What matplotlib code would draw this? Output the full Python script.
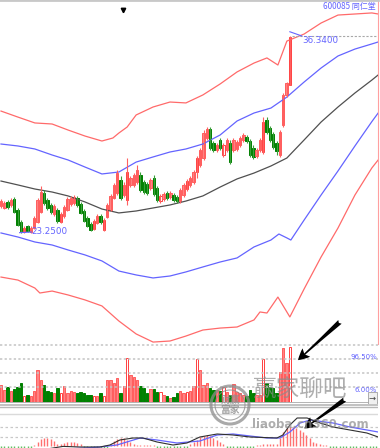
import matplotlib
matplotlib.use("Agg")
import matplotlib.pyplot as plt
from matplotlib.patches import Circle, FancyArrowPatch
import numpy as np

plt.rcParams['font.family'] = ['DejaVu Sans']
CJK = ['Noto Sans CJK SC', 'DejaVu Sans']

# ---- daily candles (price, yuan) ----
opens = [25.04, 24.91, 25.31, 25.11, 25.51, 24.78, 23.98, 23.31, 23.71, 23.31,
         23.58, 23.98, 24.64, 25.91, 25.44, 25.11, 24.51, 24.78, 23.98, 24.38,
         24.78, 25.17, 25.24, 25.57, 25.17, 24.71, 24.24, 23.85, 23.51, 23.91,
         24.38, 23.45, 24.31, 24.78, 25.57, 25.91, 26.77, 25.77, 25.44, 26.44,
         26.44, 26.64, 27.10, 26.64, 26.50, 26.24, 26.90, 26.24, 25.37, 25.51,
         25.91, 25.64, 25.77, 25.64, 25.37, 25.77, 26.17, 26.44, 26.64, 27.30,
         27.77, 28.23, 29.56, 30.16, 29.23, 28.76, 29.43, 28.43, 28.76, 29.23,
         28.76, 28.83, 29.10, 29.43, 29.63, 29.36, 28.90, 28.36, 28.76, 28.63,
         30.76, 30.22, 29.83, 29.23, 28.43, 30.42, 32.42, 33.08]
closes = [25.37, 25.24, 24.97, 25.44, 24.64, 23.78, 23.38, 23.58, 23.38, 23.58,
          24.24, 25.44, 25.97, 25.24, 24.91, 24.64, 25.04, 24.04, 24.51, 24.97,
          25.51, 25.57, 25.64, 25.11, 24.58, 24.04, 23.71, 23.45, 24.04, 24.38,
          23.98, 24.11, 25.11, 25.71, 26.44, 27.23, 25.57, 26.44, 27.30, 26.90,
          27.10, 27.43, 26.10, 25.97, 25.91, 26.77, 25.84, 25.44, 25.71, 25.84,
          25.57, 25.91, 25.44, 25.37, 26.10, 26.44, 26.70, 26.90, 27.30, 28.23,
          28.76, 29.89, 30.16, 28.90, 28.76, 29.10, 28.90, 29.10, 29.43, 27.96,
          29.43, 29.29, 29.56, 29.76, 29.36, 28.43, 28.30, 28.76, 29.43, 30.62,
          29.96, 29.43, 28.96, 28.70, 29.96, 32.42, 33.21, 36.27]
highs = [25.51, 25.37, 25.44, 25.57, 25.64, 24.91, 24.11, 23.71, 23.78, 23.71,
         24.38, 25.57, 26.37, 26.10, 25.57, 25.24, 25.17, 24.91, 24.64, 25.11,
         25.64, 25.71, 25.77, 25.71, 25.31, 24.84, 24.38, 23.98, 24.18, 24.51,
         24.51, 24.24, 25.24, 25.84, 26.57, 27.43, 27.03, 26.64, 28.23, 27.03,
         27.23, 27.77, 27.30, 26.77, 26.64, 26.90, 27.10, 26.37, 25.84, 25.97,
         26.04, 26.04, 25.91, 25.77, 26.24, 26.57, 26.84, 27.03, 27.43, 28.36,
         28.90, 30.09, 30.29, 30.29, 29.36, 29.23, 29.56, 29.23, 29.56, 29.43,
         29.56, 29.43, 29.69, 29.89, 29.76, 29.49, 29.10, 28.90, 29.56, 30.95,
         30.95, 30.36, 29.96, 29.36, 30.09, 32.55, 33.28, 36.34]
lows = [24.91, 24.84, 24.84, 24.97, 24.58, 23.71, 23.25, 23.28, 23.31, 23.28,
        23.51, 23.91, 24.58, 25.11, 24.78, 24.51, 24.38, 23.91, 23.91, 24.24,
        24.71, 25.04, 25.11, 24.97, 24.51, 23.98, 23.65, 23.38, 23.45, 23.85,
        23.85, 23.38, 24.24, 24.71, 25.51, 25.77, 25.44, 25.64, 25.11, 26.30,
        26.30, 26.50, 25.97, 25.84, 25.77, 26.10, 25.71, 25.31, 25.24, 25.37,
        25.44, 25.51, 25.31, 25.24, 25.24, 25.64, 26.04, 26.30, 26.50, 26.90,
        27.63, 28.10, 29.43, 28.76, 28.63, 28.63, 28.76, 28.30, 28.63, 27.83,
        28.63, 28.70, 28.96, 29.29, 29.23, 28.30, 28.16, 28.23, 28.63, 28.50,
        29.83, 29.29, 28.83, 28.43, 28.30, 30.29, 32.28, 33.08]
hollow_days = [7, 18, 28, 31, 38, 48, 56, 59, 67, 79, 87]

volumes = [18, 13, 16, 12, 14, 16, 20, 7, 8, 7, 12, 33,
           23, 18, 12, 11, 10, 15, 10, 17, 10, 12, 11, 10, 11, 10, 8, 8, 7, 7, 10, 7,
           23, 23, 20, 25, 10, 17,
           45,
           28, 26, 23, 17, 15, 10, 14, 14, 11, 11, 8, 7, 5, 6, 10, 12, 10, 11, 12, 17,
           44, 33,
           18, 20, 15, 13, 13, 12, 16, 11, 8, 19, 11, 10, 8, 7, 13, 10, 8, 8,
           44,
           20, 16, 15, 10,
           31, 55, 40, 56]

# ---- envelope bands (day index, price) ----
grid_days = [0, 5.1, 10.2, 15.4, 20.2, 25.3, 30.4, 35.5, 40.7, 45.8, 50.9, 55.7,
             60.8, 66.0, 71.1, 76.2, 81.3, 86.1, 91.3, 96.4, 101.5, 106.6, 111.7, 113.6]
mid_line = [26.70, 26.44, 26.17, 25.97, 25.71, 25.31, 24.84, 24.58, 24.71, 24.91, 25.11, 25.37,
            25.71, 26.30, 26.84, 27.23, 27.70, 28.23, 29.43, 30.62, 31.62, 32.55, 33.41, 33.75]
blue_up = [29.16, 29.03, 28.83, 28.43, 28.10, 27.63, 27.17, 27.30, 27.96, 28.30, 28.63, 28.83,
           29.16, 29.76, 30.69, 31.22, 31.55, 32.28, 33.28, 34.21, 35.01, 35.47, 35.81, 35.94]

blue_lo_days = [0, 5.1, 10.2, 15.4, 20.2, 25.3, 30.4, 35.5, 40.7, 45.8, 50.9, 55.7, 60.8,
                66.0, 71.1, 76.2, 81.3, 83.7, 86.1, 87.3, 91.3, 96.4, 101.5, 106.6, 111.7, 113.6]
blue_lo = [23.25, 22.98, 22.65, 22.45, 22.12, 21.79, 21.39, 20.72, 20.46, 20.26, 20.39, 20.66, 20.99,
           21.32, 21.59, 22.32, 22.78, 23.18, 22.92, 22.78, 24.11, 25.77, 27.37, 29.03, 30.65, 31.22]

red_up_days = [0, 5.1, 10.2, 15.4, 20.2, 25.3, 30.4, 33.7, 35.5, 38.0, 40.7, 45.8, 50.9, 55.7,
               60.8, 66.0, 71.1, 76.2, 80.1, 83.4, 86.1, 91.3, 96.4, 101.5, 106.6, 111.7, 113.6]
red_up = [31.35, 30.95, 30.56, 30.49, 30.09, 29.69, 29.36, 29.56, 29.89, 30.29, 31.09, 31.62, 31.95, 31.89,
          32.42, 33.15, 33.95, 34.54, 34.88, 34.41, 36.00, 36.47, 37.20, 37.73, 37.80, 37.87, 37.80]

red_lo_days = [0, 5.1, 10.2, 11.7, 15.4, 20.2, 25.3, 30.4, 35.5, 40.7, 45.8, 50.9, 55.7, 60.8,
               66.0, 71.1, 76.2, 78.0, 80.1, 83.4, 87.0, 91.3, 96.4, 101.5, 106.6, 111.7, 113.6]
red_lo = [20.32, 20.12, 19.59, 19.26, 19.39, 19.13, 18.80, 18.40, 17.40, 16.54, 16.00, 16.07, 16.40, 16.80,
          16.93, 17.00, 17.47, 18.00, 17.93, 18.99, 17.67, 19.53, 21.65, 23.58, 25.77, 27.57, 28.10]

# ---- MACD ----
dif_days = [0, 12, 18.7, 23.8, 29.8, 32.8, 35.8, 39.8, 42.8, 47.0, 51.8, 56.0, 59.9, 65.1, 69.9,
            75.0, 83.1, 84.9, 87.0, 89.2, 92.2, 95.2, 100.0, 105.1, 110.2, 113.6]
dif = [-0.4, -0.2, -0.02, -0.05, -0.05, 0.05, 0.3, 0.4, 0.4, 0.2, 0.05, 0.15, 0.45, 0.6, 0.55,
       0.45, 0.4, 0.55, 1.05, 1.4, 1.4, 1.2, 0.95, 0.8, 0.65, 0.45]
dea_days = [0, 15, 29.8, 34.9, 41.9, 47.0, 53.0, 59.9, 65.1, 69.9, 80.1, 84.0, 87.0, 90.1, 93.1,
            100.0, 105.1, 110.2, 113.6]
dea = [-0.4, -0.2, -0.05, 0.05, 0.4, 0.3, 0.15, 0.25, 0.55, 0.6, 0.4, 0.4, 0.7, 1.15, 1.3,
       1.15, 0.95, 0.8, 0.7]
macd_hist = [-0.1] * 10 + [0.05, 0.2, 0.35, 0.4, 0.38, 0.33, 0.25, 0.12,
             0.1, 0.15, 0.2, 0.2, 0.18, 0.15, 0.1] + [-0.1] * 8 + \
            [0.1, 0.25, 0.35, 0.4, 0.38, 0.3, 0.2, 0.12] + [0.05] * 6 + [-0.1] * 10 + \
            [0.1, 0.2, 0.3, 0.45, 0.5, 0.55, 0.5, 0.4, 0.3, 0.2, 0.1] + [-0.1] * 9 + \
            [0.05, 0.05, 0.08, 0.08, 0.1, 0.1, 0.1] + \
            [0.4, 0.7, 0.9, 0.95, 0.95, 0.9, 0.8, 0.7, 0.55, 0.4, 0.2, 0.15, 0.1, 0.05, 0.05] + [-0.1] * 15

PINK, PINK_EDGE, GREEN = '#ff8484', '#ff5c5c', '#008000'
BLUE, RED_LINE, GREY_LINE = '#6464ff', '#ff6a6a', '#505050'

days = np.arange(len(opens))
o, c = np.array(opens), np.array(closes)
up = c >= o
face, edge = [], []
for i in days:
    if not up[i]:
        face.append(GREEN); edge.append(GREEN)
    elif i in hollow_days:
        face.append('white'); edge.append('#ff4040')
    else:
        face.append(PINK); edge.append(PINK_EDGE)
wick = ['#3aa03a' if not u else '#ff6060' for u in up]

xmin, xmax = -0.3, 113.55
fig = plt.figure(figsize=(3.8, 4.48), dpi=100)
ax = fig.add_axes([0, 104 / 448, 378 / 380, 344 / 448])
axv = fig.add_axes([0, 45 / 448, 378 / 380, 59 / 448])
axm = fig.add_axes([0, 0, 378 / 380, 44 / 448])
for a in (ax, axv, axm):
    a.set_xlim(xmin, xmax)
    a.set_xticks([]); a.set_yticks([])
    for s in a.spines.values():
        s.set_visible(False)

# main price panel
ax.set_ylim(38.73 - 0.06645 * 344, 38.73)
ax.plot(red_up_days, red_up, color=RED_LINE, lw=0.9)
ax.plot(red_lo_days, red_lo, color=RED_LINE, lw=0.9, clip_on=False)
ax.plot(grid_days, blue_up, color=BLUE, lw=0.9)
ax.plot(blue_lo_days, blue_lo, color=BLUE, lw=0.9)
ax.plot(grid_days, mid_line, color=GREY_LINE, lw=0.9)
ax.vlines(days, lows, highs, colors=wick, lw=0.8)
body_bot = np.minimum(o, c)
body_h = np.maximum(np.abs(c - o), 0.04)
ax.bar(days, body_h, bottom=body_bot, width=0.72, color=face, edgecolor=edge, lw=0.7)

ax.hlines(36.34, 87.6, xmax, colors='#a8a8a8', linestyles=(0, (2, 1.5)), lw=0.8)
ax.plot([87, 90.6], [36.62, 36.34], color=BLUE, lw=0.8)
ax.text(90.8, 36.02, '36.3400', color=BLUE, fontsize=6.3, va='center', ha='left')
ax.plot([5.6, 9.2], [23.27, 23.31], color=BLUE, lw=0.8)
ax.text(9.3, 23.33, '23.2500', color=BLUE, fontsize=6.3, va='center', ha='left')
ax.plot([36.7], [38.07], marker='v', ms=3.2, color='black')
ax.spines['right'].set_visible(True)
ax.spines['right'].set_color('#ffa0a0')
ax.spines['top'].set_visible(True)
ax.spines['top'].set_color('#c8c8c8')
ax.spines['top'].set_linewidth(2)
ax.text(0.995, 0.993, '600085 同仁堂', transform=ax.transAxes, ha='right', va='top',
        fontsize=5.8, color=BLUE, family=CJK)

# volume panel
axv.set_ylim(0, 59)
for lvl in (58.5, 44, 30, 16):
    axv.axhline(lvl, color='#c4c4c4', ls=(0, (1.5, 1.5)), lw=1.1)
axv.bar(days, volumes, width=0.72, color=face, edgecolor=edge, lw=0.7)
axv.axhline(0, color='#b4b4b4', lw=1.4)
axv.text(0.997, 46.5, '96.50%', transform=axv.get_yaxis_transform(), ha='right', va='center',
         fontsize=5, color=BLUE)
axv.text(0.997, 13.5, '6.00%', transform=axv.get_yaxis_transform(), ha='right', va='center',
         fontsize=5, color=BLUE)
axv.text(0.985, 5, '→', transform=axv.get_yaxis_transform(), ha='center', va='center',
         fontsize=6, color='#404040',
         bbox=dict(boxstyle='square,pad=0.15', fc='#f0f0f0', ec='#a0a0a0', lw=0.6))

# MACD panel
axm.set_ylim(-0.1, 2.1)
axm.axhline(2.06, color='#b8b8b8', lw=1.2)
axm.axhline(1.93, color='#b8b8b8', lw=1.0)
axm.axhline(1.6, color='#dadada', lw=1.0)
axm.axhline(0.95, color='#c8c8c8', ls=(0, (2, 2)), lw=0.9)
axm.axhline(0.45, color='#c8c8c8', ls=(0, (2, 2)), lw=0.9)
hd = np.arange(len(macd_hist))
hv = np.array(macd_hist)
axm.vlines(hd, 0, hv, colors=np.where(hv >= 0, '#ff7070', '#60c060'), lw=1.0)
axm.plot(dea_days, dea, color=BLUE, lw=0.9)
axm.plot(dif_days, dif, color='#303030', lw=0.8)

# overlay: watermark and arrows, in pixel units
ov = fig.add_axes([0, 0, 1, 1], facecolor='none')
ov.set_xlim(0, 380); ov.set_ylim(448, 0); ov.axis('off')
ov.add_patch(Circle((230, 405), 19, fill=False, ec='#8c8c8c', lw=2.2, alpha=0.75))
ov.add_patch(Circle((230, 405), 15, fill=False, ec='#8c8c8c', lw=0.8, alpha=0.75))
ov.text(230, 405, '财赢\n富家', ha='center', va='center', fontsize=7, color='#8c8c8c',
        alpha=0.8, family=CJK, linespacing=1.0, fontweight='bold')
ov.text(252, 389, '赢家聊吧', ha='left', va='center', fontsize=17, color='#8c8c8c',
        alpha=0.7, family=CJK)
ov.text(252, 425, 'liaoba.cn360.com', ha='left', va='center', fontsize=8.5, color='#8c8c8c',
        alpha=0.7, fontweight='bold')
for (x0, y0), (x1, y1) in [((342, 320), (296, 362)), ((347, 398), (302, 430))]:
    ov.add_patch(FancyArrowPatch((x0, y0), (x1, y1),
                                 arrowstyle='fancy,head_length=0.9,head_width=0.9,tail_width=0.4',
                                 mutation_scale=9, color='black', lw=0))

fig.savefig('out.png', dpi=100)
